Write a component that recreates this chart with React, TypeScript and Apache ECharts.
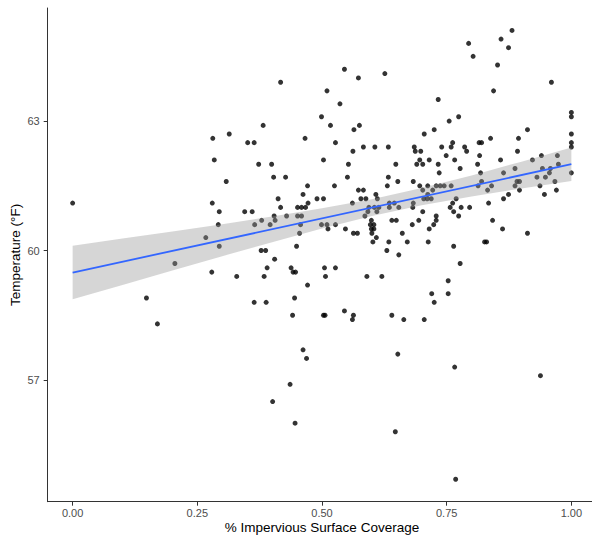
import React, { useEffect, useRef } from "react";
import * as echarts from "echarts";

// Observed sites: share of impervious surface vs. temperature (°F)
const imperviousShare: number[] = [
  0.281, 0.314, 0.284, 0.545, 0.573, 0.626, 0.417, 0.510, 0.536, 0.499,
  0.382, 0.517, 0.575, 0.564, 0.705, 0.351, 0.364, 0.466, 0.527, 0.583,
  0.606, 0.633, 0.685, 0.687, 0.698, 0.562, 0.696, 0.715, 0.503, 0.373,
  0.399, 0.553, 0.648, 0.690, 0.702, 0.881, 0.859, 0.794, 0.874, 0.803,
  0.852, 0.960, 0.844, 0.733, 1.000, 1.000, 0.774, 0.755, 0.725, 0.912,
  1.000, 0.838, 0.894, 1.000, 1.000, 0.740, 0.759, 0.762, 0.786, 0.790,
  0.815, 0.820, 0.892, 0.749, 0.816, 0.766, 0.858, 0.940, 0.972, 0.922,
  0.733, 0.812, 0.777, 0.887, 0.942, 0.958, 0.974, 0.000, 0.308, 0.280,
  0.294, 0.292, 0.267, 0.294, 0.205, 0.279, 0.329, 0.148, 0.170, 0.403,
  0.427, 0.551, 0.633, 0.652, 0.683, 0.471, 0.525, 0.631, 0.696, 0.712,
  0.573, 0.583, 0.702, 0.462, 0.608, 0.412, 0.490, 0.503, 0.578, 0.588,
  0.611, 0.704, 0.711, 0.472, 0.561, 0.635, 0.645, 0.683, 0.417, 0.451,
  0.459, 0.467, 0.594, 0.605, 0.614, 0.635, 0.654, 0.682, 0.345, 0.360,
  0.592, 0.610, 0.702, 0.404, 0.429, 0.451, 0.459, 0.586, 0.379, 0.406,
  0.599, 0.640, 0.649, 0.694, 0.365, 0.396, 0.457, 0.499, 0.510, 0.527,
  0.597, 0.604, 0.681, 0.512, 0.547, 0.599, 0.604, 0.715, 0.455, 0.563,
  0.571, 0.600, 0.661, 0.609, 0.602, 0.634, 0.671, 0.713, 0.449, 0.378,
  0.387, 0.630, 0.654, 0.405, 0.390, 0.438, 0.505, 0.527, 0.442, 0.447,
  0.384, 0.507, 0.590, 0.620, 0.471, 0.445, 0.364, 0.388, 0.545, 0.441,
  0.503, 0.506, 0.563, 0.640, 0.561, 0.664, 0.705, 0.735, 0.818, 0.864,
  1.000, 0.931, 0.948, 0.956, 0.820, 0.891, 0.896, 0.967, 0.729, 0.737,
  0.745, 0.759, 0.813, 0.840, 0.887, 0.937, 0.722, 0.832, 0.896, 0.970,
  0.712, 0.874, 0.946, 0.719, 0.769, 0.864, 0.762, 0.834, 0.757, 0.779,
  0.796, 0.764, 0.774, 0.729, 0.729, 0.842, 0.724, 0.862, 0.912, 0.826,
  0.830, 0.764, 0.777, 0.753, 0.720, 0.753, 0.725, 0.462, 0.469, 0.652,
  0.436, 0.401, 0.446, 0.647, 0.766, 0.938, 0.768,
];

const temperatureF: number[] = [
  62.6, 62.7, 62.1, 64.2, 64.0, 64.1, 63.9, 63.7, 63.4, 63.1,
  62.9, 62.9, 62.9, 62.8, 62.7, 62.5, 62.5, 62.6, 62.5, 62.4,
  62.4, 62.4, 62.4, 62.3, 62.3, 62.3, 62.1, 62.1, 62.1, 62.0,
  62.0, 62.0, 62.0, 62.0, 62.0, 65.1, 64.9, 64.8, 64.7, 64.5,
  64.3, 63.9, 63.7, 63.5, 63.2, 63.1, 63.1, 63.0, 62.8, 62.8,
  62.7, 62.6, 62.6, 62.5, 62.4, 62.4, 62.4, 62.5, 62.4, 62.3,
  62.5, 62.5, 62.3, 62.2, 62.2, 62.1, 62.1, 62.2, 62.2, 62.1,
  62.0, 62.0, 61.9, 61.9, 61.9, 61.9, 62.0, 61.1, 61.6, 61.1,
  60.9, 60.6, 60.3, 60.1, 59.7, 59.5, 59.4, 58.9, 58.3, 61.7,
  61.7, 61.7, 61.7, 61.6, 61.6, 61.5, 61.5, 61.5, 61.5, 61.5,
  61.4, 61.4, 61.4, 61.3, 61.3, 61.2, 61.2, 61.2, 61.2, 61.2,
  61.2, 61.2, 61.2, 61.1, 61.1, 61.1, 61.1, 61.1, 61.0, 61.0,
  61.0, 61.0, 61.0, 61.0, 61.0, 61.0, 61.0, 61.0, 60.9, 60.9,
  60.9, 60.9, 60.9, 60.8, 60.8, 60.8, 60.8, 60.8, 60.7, 60.7,
  60.7, 60.7, 60.7, 60.7, 60.6, 60.6, 60.6, 60.6, 60.6, 60.6,
  60.6, 60.6, 60.6, 60.5, 60.5, 60.5, 60.5, 60.5, 60.4, 60.4,
  60.4, 60.4, 60.4, 60.3, 60.2, 60.2, 60.2, 60.2, 60.1, 60.0,
  60.0, 60.0, 59.9, 59.8, 59.6, 59.6, 59.6, 59.6, 59.5, 59.5,
  59.4, 59.4, 59.4, 59.4, 59.2, 58.9, 58.8, 58.8, 58.6, 58.5,
  58.5, 58.5, 58.5, 58.5, 58.4, 58.4, 58.4, 61.8, 61.8, 61.8,
  61.8, 61.7, 61.7, 61.8, 61.6, 61.6, 61.6, 61.6, 61.5, 61.5,
  61.5, 61.5, 61.5, 61.5, 61.5, 61.5, 61.4, 61.4, 61.4, 61.4,
  61.3, 61.3, 61.3, 61.2, 61.2, 61.2, 61.1, 61.1, 61.0, 61.0,
  61.0, 60.9, 60.8, 60.8, 60.7, 60.7, 60.6, 60.5, 60.4, 60.2,
  60.2, 60.1, 59.7, 59.3, 59.0, 59.0, 58.8, 57.7, 57.5, 57.6,
  56.9, 56.5, 56.0, 55.8, 57.3, 57.1, 54.7,
];

// Linear fit and its 95% confidence band
const fitX: number[] = [0, 1];
const fitY: number[] = [59.49, 62.0];
const bandX: number[] = [0, 0.1, 0.2, 0.3, 0.4, 0.5, 0.6, 0.7, 0.8, 0.9, 1.0];
const bandLower: number[] = [58.87, 59.2, 59.54, 59.87, 60.19, 60.51, 60.8, 61.05, 61.25, 61.44, 61.61];
const bandUpper: number[] = [60.11, 60.28, 60.44, 60.61, 60.79, 60.98, 61.19, 61.45, 61.74, 62.06, 62.39];

// Axis ticks
const xTicks: number[] = [0, 0.25, 0.5, 0.75, 1];
const yTicks: number[] = [57, 60, 63];

const FONT = '"Liberation Sans", Arial, sans-serif';

export default function App() {
  const ref = useRef<HTMLDivElement>(null);

  useEffect(() => {
    if (!ref.current) return;
    const chart = echarts.init(ref.current, undefined, { renderer: "svg" });

    const points = imperviousShare.map((x, i) => [x, temperatureF[i]]);
    const axisLineStyle = { color: "#333333", width: 1 };

    chart.setOption({
      animation: false,
      backgroundColor: "#ffffff",
      grid: {
        left: 47.7,
        right: -4.3,
        top: 8,
        bottom: 35.3,
        containLabel: false,
        outerBoundsMode: "none",
      },
      xAxis: {
        type: "value",
        min: -0.05,
        max: 1.05,
        name: "% Impervious Surface Coverage",
        nameLocation: "middle",
        nameGap: 18.5,
        nameMoveOverlap: false,
        nameTextStyle: { color: "#000000", fontSize: 13.5, fontFamily: FONT },
        axisLine: { show: true, onZero: false, lineStyle: axisLineStyle },
        axisTick: { show: true, length: 4, lineStyle: axisLineStyle, customValues: xTicks },
        axisLabel: {
          color: "#4d4d4d",
          fontSize: 11,
          fontFamily: FONT,
          margin: 6,
          customValues: xTicks,
          formatter: (v: number) => v.toFixed(2),
        },
        splitLine: { show: false },
      },
      yAxis: {
        type: "value",
        min: 54.18,
        max: 65.62,
        name: "Temperature (°F)",
        nameLocation: "middle",
        nameGap: 25,
        nameRotate: 90,
        nameMoveOverlap: false,
        nameTextStyle: { color: "#000000", fontSize: 13.5, fontFamily: FONT },
        axisLine: { show: true, onZero: false, lineStyle: axisLineStyle },
        axisTick: { show: true, length: 4, lineStyle: axisLineStyle, customValues: yTicks },
        axisLabel: {
          color: "#4d4d4d",
          fontSize: 11,
          fontFamily: FONT,
          margin: 8,
          customValues: yTicks,
          formatter: (v: number) => String(v),
        },
        splitLine: { show: false },
      },
      series: [
        {
          type: "scatter",
          data: points,
          symbol: "circle",
          symbolSize: 5,
          itemStyle: { color: "#000000" },
          z: 1,
        },
        {
          type: "custom",
          data: [[bandX[0], bandLower[0]]],
          z: 2,
          silent: true,
          renderItem: (_params: any, api: any) => {
            const upper = bandX.map((x, i) => api.coord([x, bandUpper[i]]));
            const lower = bandX.map((x, i) => api.coord([x, bandLower[i]])).reverse();
            return {
              type: "polygon",
              shape: { points: upper.concat(lower) },
              style: { fill: "#999999", opacity: 0.4 },
            };
          },
        },
        {
          type: "line",
          data: fitX.map((x, i) => [x, fitY[i]]),
          showSymbol: false,
          symbol: "none",
          lineStyle: { color: "#3366ff", width: 1.8 },
          z: 3,
          silent: true,
        },
      ],
    });

    return () => chart.dispose();
  }, []);

  return (
    <div
      ref={ref}
      style={{ position: "fixed", left: 0, top: 0, width: 592, height: 537, background: "#fff" }}
    />
  );
}
